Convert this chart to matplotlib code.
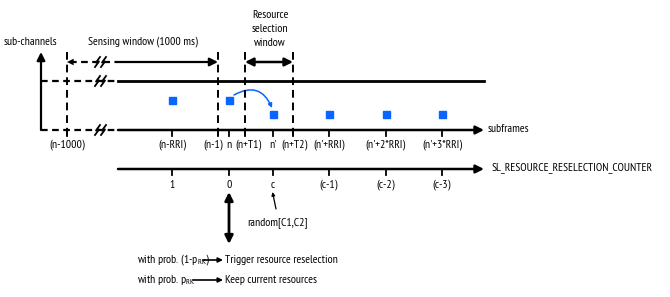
import matplotlib
matplotlib.use("Agg")
import matplotlib.pyplot as plt
from matplotlib.patches import FancyArrowPatch, Rectangle

FONTS = ['PT Sans Narrow', 'Barlow Condensed', 'Carlito', 'DejaVu Sans']
plt.rcParams['font.family'] = FONTS
plt.rcParams['mathtext.fontset'] = 'custom'
plt.rcParams['mathtext.rm'] = 'PT Sans Narrow'
plt.rcParams['mathtext.it'] = 'PT Sans Narrow'

# ---- diagram content ----
subframe_labels = ['(n-1000)', '(n-RRI)', '(n-1)', 'n', '(n+T1)', "n'", '(n+T2)',
                   "(n'+RRI)", "(n'+2*RRI)", "(n'+3*RRI)"]
subframe_pos = [67, 172, 218, 229, 245, 273, 293, 329, 386, 442]
counter_labels = ['1', '0', 'c', '(c-1)', '(c-2)', '(c-3)']
counter_pos = [172, 229, 273, 329, 386, 442]
square_pos = [172, 229, 273, 329, 386, 442]
square_level = [1, 1, 0, 0, 0, 0]
window_lines = [67, 218, 245, 293]

FS = 8.5
BLUE = '#0a64ff'

fig = plt.figure(figsize=(6.70, 2.97), dpi=100)
ax = fig.add_axes([0, 0, 1, 1])
ax.set_xlim(0, 670)
ax.set_ylim(297, 0)
ax.axis('off')

Y_TOP, Y_BOT, Y_WIN, Y_CNT = 81, 130, 62, 169
X_AX, X_BRK, X_END = 41, 118, 484

def arrow(x0, y0, x1, y1, style='-|>', lw=1.5, ms=9, color='k', **kw):
    ax.add_patch(FancyArrowPatch((x0, y0), (x1, y1), arrowstyle=style,
                                 mutation_scale=ms, lw=lw, color=color,
                                 shrinkA=0, shrinkB=0, **kw))

def zig(x, y):
    for dx in (0, 6):
        ax.plot([x + dx + 4, x + dx, x + dx + 3, x + dx - 1],
                [y - 5, y + 0.5, y - 0.5, y + 5], color='k', lw=1.3, zorder=5)

# y axis
arrow(X_AX, Y_BOT, X_AX, 52, lw=1.6, ms=12)
ax.text(4, 42, 'sub-channels', fontsize=FS, va='center', ha='left')

# top and bottom lines
for y in (Y_TOP, Y_BOT):
    ax.plot([X_AX, X_BRK], [y, y], color='k', lw=1.6, ls=(0, (3, 2)))
    zig(96, y)
ax.plot([X_BRK, X_END], [Y_TOP, Y_TOP], color='k', lw=2)
arrow(X_BRK, Y_BOT, X_END, Y_BOT, lw=1.8, ms=12)
ax.text(488, Y_BOT - 1, 'subframes', fontsize=FS, va='center', ha='left')

# window vertical dashed lines
for x in window_lines:
    ax.plot([x, x], [52, 136], color='k', lw=1.4, ls=(0, (4, 2.5)))

# sensing window arrow
ax.plot([70, X_BRK], [Y_WIN, Y_WIN], color='k', lw=1.6, ls=(0, (3, 2)))
arrow(X_BRK, Y_WIN, 67, Y_WIN, lw=0, ms=12)
arrow(X_BRK, Y_WIN, 218, Y_WIN, lw=1.6, ms=12)
zig(96, Y_WIN)
ax.text(143, 42, 'Sensing window (1000 ms)', fontsize=FS, va='center', ha='center')

# resource selection window
arrow(245, Y_WIN, 293, Y_WIN, style='<|-|>', lw=1.8, ms=12)
ax.text(270, 29.5, 'Resource\nselection\nwindow', fontsize=FS, va='center', ha='center',
        linespacing=1.5)

# ticks & labels on subframe axis (small nudges where labels crowd)
nudge = {'(n-1)': -5, '(n+T1)': 3, '(n+T2)': 2}
for x, lab in zip(subframe_pos, subframe_labels):
    ax.plot([x, x], [Y_BOT, Y_BOT + 6], color='k', lw=1.3)
    ax.text(x + nudge.get(lab, 0), 145, lab, fontsize=FS, ha='center', va='center')

# squares
for x, lv in zip(square_pos, square_level):
    y = 100 if lv else 114
    ax.add_patch(Rectangle((x - 3.5, y - 3.5), 7, 7, color=BLUE, zorder=6))

# blue curved arrow
arrow(234, 95, 272, 108, style='-|>', lw=1.1, ms=6, color=BLUE,
      connectionstyle='arc3,rad=-0.55')

# counter axis
arrow(X_BRK, Y_CNT, X_END, Y_CNT, lw=1.8, ms=12)
ax.text(492, Y_CNT - 1, 'SL_RESOURCE_RESELECTION_COUNTER', fontsize=FS, va='center', ha='left')
for x, lab in zip(counter_pos, counter_labels):
    ax.plot([x, x], [Y_CNT, Y_CNT + 6], color='k', lw=1.3)
    ax.text(x, 185, lab, fontsize=FS, ha='center', va='center')

# random arrow
arrow(276, 209, 272.5, 192, lw=0.9, ms=5)
ax.text(247, 223, 'random[C1,C2]', fontsize=FS, va='center', ha='left')

# double arrow at counter 0
arrow(229, 192, 229, 244, style='<|-|>', lw=2, ms=12)

# probabilities
ax.text(137, 260, r'with prob. (1-p$_{\mathrm{RK}}$)', fontsize=FS, va='center', ha='left')
arrow(203, 260, 223, 260, lw=1.2, ms=7)
ax.text(225, 260, 'Trigger resource reselection', fontsize=FS, va='center', ha='left')
ax.text(137, 280, r'with prob. p$_{\mathrm{RK}}$', fontsize=FS, va='center', ha='left')
arrow(193, 280, 223, 280, lw=1.2, ms=7)
ax.text(225, 280, 'Keep current resources', fontsize=FS, va='center', ha='left')

fig.savefig('out.png', dpi=100)
